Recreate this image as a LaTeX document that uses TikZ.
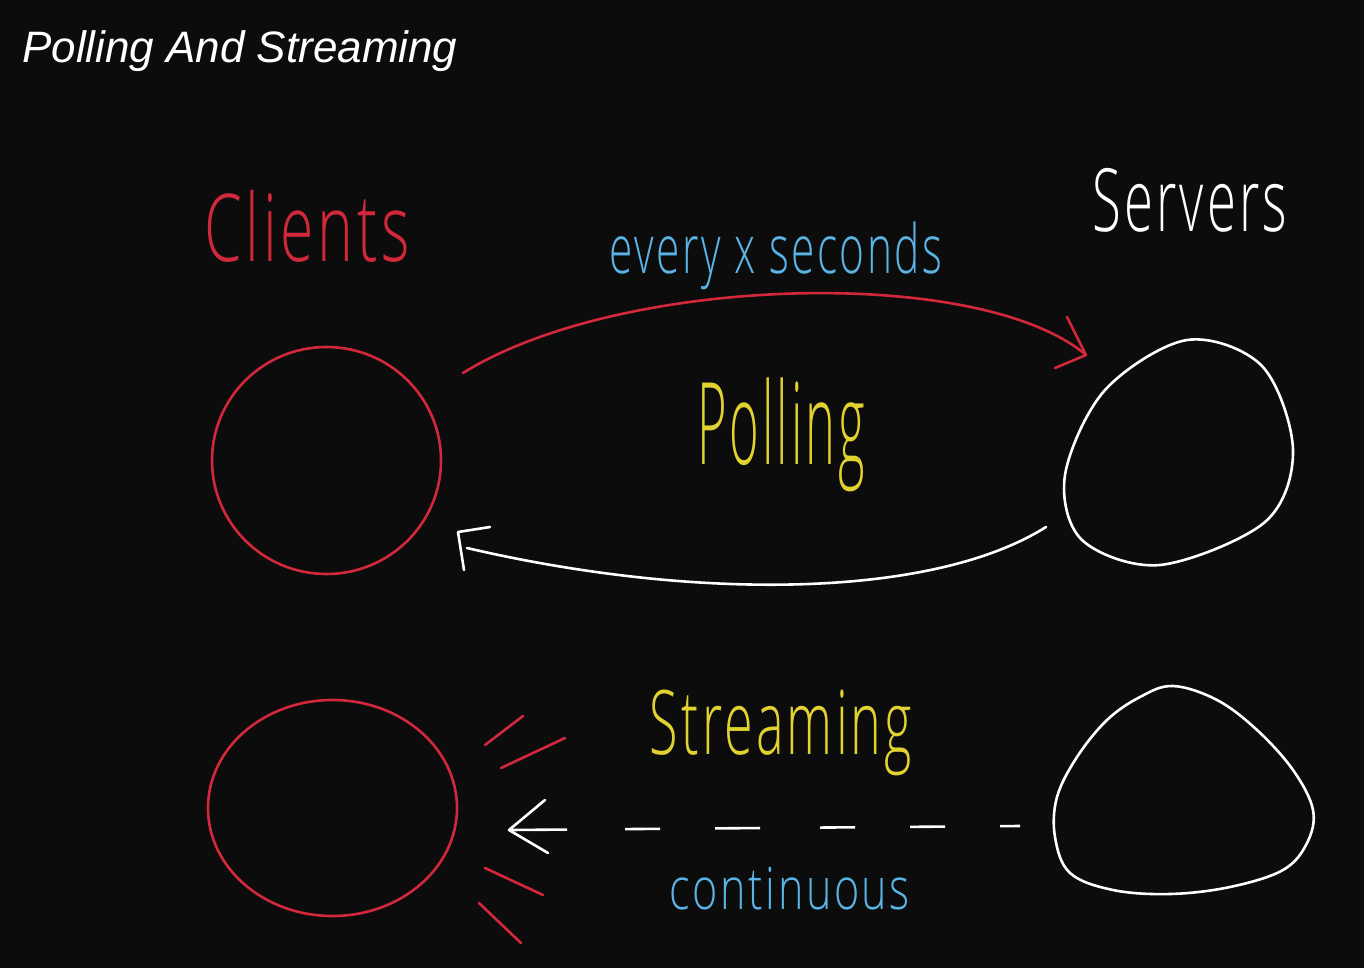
\documentclass[tikz,border=0pt]{standalone}
\usepackage{graphicx}
\usepackage{fontspec}
\IfFontExistsTF{Open Sans Light}
  {\newfontfamily\hwfont[LetterSpace=6]{Open Sans Light}}
  {\newfontfamily\hwfont[LetterSpace=6]{Open Sans}}
\newfontfamily\titlefont{Liberation Sans}
\usetikzlibrary{shapes.geometric}
\definecolor{bg}{HTML}{0C0C0C}
\definecolor{hred}{HTML}{D2283C}
\definecolor{hblue}{HTML}{5AB4E6}
\definecolor{hyellow}{HTML}{E1D232}
\newcommand{\hw}[3]{\resizebox*{#1}{#2}{\hwfont #3}}
\begin{document}
\begin{tikzpicture}[x=1pt,y=-1pt,
  stroke/.style={line width=2.6pt,line cap=round,line join=round},
  blob/.style={ellipse,draw,stroke,inner sep=0pt},
  hwlabel/.style={inner sep=0pt,anchor=center},
  invis/.style={inner sep=0pt,minimum size=1pt}]
\fill[bg] (0,0) rectangle (1364,968);
\useasboundingbox (0,0) rectangle (1364,968);

% title
\node[inner sep=0pt,anchor=base west,text=white] (title) at (22,63)
  {\titlefont\fontsize{44}{52}\selectfont\itshape Polling And Streaming};

% labels
\node[hwlabel,text=hred] (lclients) at (307,226) {\hw{205pt}{72pt}{Clients}};
\node[hwlabel,text=white] (lservers) at (1190,200) {\hw{195pt}{64pt}{Servers}};
\node[hwlabel,text=hblue] (levery) at (776,256) {\hw{333pt}{68pt}{every x seconds}};
\node[hwlabel,text=hyellow] (lpolling) at (781,435) {\hw{168pt}{114pt}{Polling}};
\node[hwlabel,text=hyellow] (lstream) at (781,733) {\hw{262pt}{86pt}{Streaming}};
\node[hwlabel,text=hblue] (lcont) at (790,889) {\hw{240pt}{43pt}{continuous}};

% clients
\node[blob,hred,minimum width=229pt,minimum height=227pt] (client1) at (326.5,460.5) {};
\node[blob,hred,minimum width=249pt,minimum height=216pt] (client2) at (332.5,808) {};

% servers
\node[invis] (server1) at (1178,452) {};
\draw[stroke,white] plot[smooth cycle,tension=0.55] coordinates {
  (1187,340) (1262,366) (1293,450) (1265,522) (1160,565)
  (1082,540) (1065,475) (1105,390)};
\node[invis] (server2) at (1183,790) {};
\draw[stroke,white] plot[smooth cycle,tension=0.6] coordinates {
  (1173,686) (1217,700) (1257,730) (1293,770) (1313,810) (1307,843)
  (1283,870) (1230,887) (1170,894) (1113,890) (1070,873) (1055,837)
  (1057,797) (1077,757) (1107,720) (1140,697)};

% polling request arrow (red)
\coordinate (reqS) at (463,373);
\coordinate (reqT) at (1086,355);
\coordinate (reqH1) at (1067,317);
\coordinate (reqH2) at (1055,368);
\draw[stroke,hred] (reqS) .. controls (620,275) and (980,265) .. (reqT);
\draw[stroke,hred] (reqH1) -- (reqT) -- (reqH2);

% polling response arrow (white)
\coordinate (resS) at (1046,527);
\coordinate (resE) at (467,548);
\coordinate (resT) at (458,532);
\coordinate (resH1) at (490,527);
\coordinate (resH2) at (464,570);
\draw[stroke,white] (resS) .. controls (930,600) and (690,600) .. (resE);
\draw[stroke,white] (resH1) -- (resT) -- (resH2);

% streaming arrow (dashed)
\coordinate (strS) at (1020,826);
\coordinate (strT) at (509,830);
\coordinate (strH1) at (545,800);
\coordinate (strH2) at (548,853);
\draw[stroke,white,line cap=butt,dash pattern=on 20pt off 55pt on 35pt off 55pt on 35pt off 60pt on 45pt off 55pt on 35pt off 58pt on 60pt off 10pt] (strS) -- (strT);
\draw[stroke,white] (strH1) -- (strT) -- (strH2);

% emission marks (red)
\draw[stroke,hred] (485,745) -- (523,716);
\draw[stroke,hred] (501,768) -- (565,738);
\draw[stroke,hred] (485,868) -- (543,895);
\draw[stroke,hred] (479,903) -- (521,943);
\end{tikzpicture}
\end{document}
